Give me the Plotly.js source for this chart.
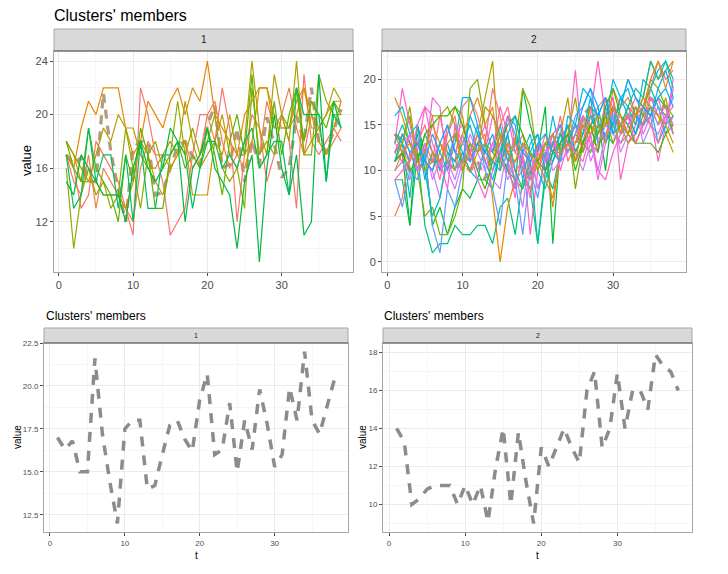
<!DOCTYPE html>
<html><head><meta charset="utf-8">
<script src="https://cdn.plot.ly/plotly-3.0.1.min.js"></script>
<style>html,body{margin:0;padding:0;background:#fff}#chart{width:728px;height:574px}</style>
</head><body><div id="chart"></div>
<script>
// ---------------- data ----------------
const tIdx = [1,2,3,4,5,6,7,8,9,10,11,12,13,14,15,16,17,18,19,20,21,22,23,24,25,26,27,28,29,30,31,32,33,34,35,36,37,38];

const centroid1 = [17,16.3,16.8,15,15,21.6,17.2,14.4,12,17.5,18,18,14,14.2,16,17.7,18,16.9,16.2,19.2,20.7,16,16.3,19,15,18,16.3,19.8,17.8,15.3,16,19.9,18,22,18,17.2,18.8,20.4];
const centroid2 = [14,13.3,10,10.3,10.8,11,11,11,10,11,10,11,9.1,11.9,14,10,13.8,11.2,9,13,12,13,14,13,12.2,16,17,13,14,16.9,14,16,16,15,17.9,17.3,17,16];

const members1 = [
 [17,16,13,14,18,17,16,15,13,11,22,20,17,15,11,12,13,17,20,20,18,22,19,12,17,20,19,15,17,20,18,13,23,18,17,18,19,18],
 [17,15,14,17,13,16,15,14,13,12,16,18,17,17,16,17,18,16,17,20,21,18,16,17,16,18,17,21,19,20,22,19,17,20,19,17,18,19],
 [17,16,19,21,20,22,22,22,19,17,18,21,20,19,21,22,20,22,21,24,20,19,18,17,20,21,22,22,20,19,19,21,22,20,18,17,19,21],
 [18,17,15,15,15,14,14,14,13,15,18,17,15,14,16,17,18,14,14,14,18,17,20,17,17,18,22,22,19,19,19,20,22,19,19,20,21,21],
 [18,17,16,15,17,19,18,20,19,19,17,16,16,17,18,17,21,18,16,17,18,20,17,16,18,24,19,17,23,20,18,24,17,18,19,20,22,21],
 [16,10,14,16,14,15,13,14,19,16,13,17,18,16,17,21,17,19,17,18,20,16,15,16,13,22,17,18,17,20,19,22,17,17,23,21,20,20],
 [18,16,15,19,16,15,14,12,17,15,19,17,13,13,17,18,16,17,16,19,17,14,18,20,17,23,16,17,21,17,20,22,18,21,20,19,21,20],
 [15,14,17,16,15,14,14,14,12,16,18,16,15,16,19,18,12,16,17,19,16,15,14,10,15,17,9,16,20,16,14,17,11,12,23,15,21,19],
 [17,13,14,19,15,17,17,13,17,12,18,13,13,17,17,18,17,13,16,18,18,16,17,16,18,19,16,17,18,18,14,22,20,20,20,15,20,19]
];
const colors1 = ['#F8766D','#F07F4C','#E38900','#CD9600','#B09F00','#8FAA00','#5BB300','#00B83E','#00BD5C'];

const members2 = [
 [9,9,4,12,4,1,2,2,4,3,3,4,4,2,6,7,3,9,8,2,10,8,12,14,11,13,12,15,14,13,15,16,14,17,19,17,16,18],
 [11,12,4,15,12,4,6,3,6,8,7,9,9,8,12,10,8,19,15,12,17,2,13,15,12,14,17,16,10,17,15,14,13,15,16,18,17,14],
 [11,13,16,10,5,6,3,3,5,8,19,20,15,12,11,10,9,8,10,11,13,14,12,15,8,13,12,14,16,17,15,13,14,16,20,19,17,16],
 [18,16,13,12,11,10,12,14,17,16,11,14,18,22,10,12,9,8,12,11,13,12,14,18,11,13,15,12,16,15,13,14,13,15,17,16,14,12],
 [12,14,13,11,10,11,13,12,11,10,12,13,14,7,0,6,9,10,8,11,12,6,12,14,15,13,17,14,16,18,14,17,16,18,22,20,21,22],
 [5,7,12,10,13,11,16,12,11,17,18,16,13,19,16,12,10,11,9,12,10,11,13,12,14,16,15,17,18,15,16,14,16,15,19,22,20,21],
 [13,19,15,12,17,16,10,15,12,14,11,13,15,12,17,14,8,12,3,10,12,14,15,13,21,12,16,22,16,18,9,13,15,17,16,11,15,19],
 [12,14,12,10,11,18,17,10,14,15,13,10,12,16,14,11,7,13,12,8,11,12,14,13,15,12,14,9,13,17,16,15,17,14,16,18,15,20],
 [10,11,9,13,11,10,7,11,9,12,10,13,11,9,8,13,10,6,12,8,10,13,11,14,12,10,13,10,14,16,12,14,17,13,15,14,16,18],
 [9,6,10,9,12,4,1,8,6,10,12,15,10,8,4,11,9,3,10,7,12,11,14,13,16,17,19,15,13,16,17,20,18,16,15,17,14,16],
 [14,13,11,14,9,12,11,13,10,12,11,13,12,14,11,16,15,10,12,14,10,13,15,12,14,17,19,17,13,15,18,16,14,17,16,18,19,17],
 [16,17,14,15,11,14,12,10,13,18,18,15,11,9,12,16,14,9,13,14,11,16,12,13,15,14,18,13,15,20,18,19,16,15,17,13,15,16],
 [14,13,7,15,10,5,7,12,11,13,15,12,13,10,12,14,10,8,11,2,9,12,14,12,14,13,15,16,18,14,15,17,19,18,22,20,22,19],
 [13,15,13,11,14,12,10,11,14,12,10,9,13,12,15,11,13,12,14,10,8,11,13,15,12,14,16,14,17,15,18,17,15,20,19,21,22,20],
 [12,11,14,13,15,12,9,14,16,10,12,14,11,13,15,17,13,10,9,11,14,12,16,11,13,15,13,12,18,17,15,16,18,17,15,13,16,17],
 [10,12,11,13,12,15,13,11,10,14,16,18,15,17,11,13,12,14,10,11,9,7,12,14,13,16,14,15,13,19,17,18,16,17,20,22,19,22],
 [12,13,17,11,12,16,16,17,15,10,13,12,17,16,14,12,13,19,17,11,13,12,12,14,18,12,15,14,16,13,15,14,17,16,17,15,18,14],
 [11,12,10,11,14,15,16,16,17,15,12,10,8,11,13,15,16,14,12,11,10,12,13,14,10,13,15,12,17,19,16,15,13,13,13,12,14,15],
 [9,10,11,15,17,13,11,8,15,13,12,9,7,10,13,16,12,11,7,13,11,14,10,13,12,11,14,10,9,12,14,16,13,15,18,16,17,15],
 [13,12,14,10,13,9,11,10,8,11,14,12,10,13,12,9,11,13,10,12,13,10,11,12,14,16,11,13,15,14,13,15,16,18,17,15,16,14],
 [11,14,12,13,11,10,13,15,12,11,16,14,12,11,10,14,16,12,11,13,14,12,11,16,15,19,18,16,18,14,17,20,18,17,16,19,21,18],
 [14,12,13,11,10,12,11,13,14,11,10,12,13,11,14,12,11,13,12,10,13,14,12,13,11,15,14,16,15,17,16,14,16,18,17,16,15,13]
];
const colors2 = ['#00BF7D','#00BA38','#7CAE00','#B79F00','#E58700','#F8766D','#FF61C3','#F564E3','#C77CFF','#619CFF','#00A9FF','#00B8E7','#00C1A3','#00BFC4','#FF6C91','#E88526','#9CA700','#39B600','#FD61D1','#DB72FB','#00B0F6','#C49A00'];

const panelLabels = ['1','2'];
const mainTitle = "Clusters' members";
const subTitle = "Clusters' members";

// ---------------- layout helpers ----------------
const W = 728, H = 574;
const px = x => x / W;
const py = y => 1 - y / H;
const FONT = 'Liberation Sans, Arial, Helvetica, sans-serif';

const traces = [];
traces.push({x:tIdx, y:centroid1, xaxis:'x', yaxis:'y', mode:'lines',
  line:{color:'#B39B7E', width:3.2, dash:'9px,7px'}});
members1.forEach((m,i)=>traces.push({x:tIdx, y:m, xaxis:'x', yaxis:'y', mode:'lines',
  line:{color:colors1[i], width:1.2}}));
traces.push({x:tIdx, y:centroid2, xaxis:'x2', yaxis:'y2', mode:'lines',
  line:{color:'#B39B7E', width:3.2, dash:'9px,7px'}});
members2.forEach((m,i)=>traces.push({x:tIdx, y:m, xaxis:'x2', yaxis:'y2', mode:'lines',
  line:{color:colors2[i], width:1.2}}));
traces.push({x:tIdx, y:centroid1, xaxis:'x3', yaxis:'y3', mode:'lines',
  line:{color:'#8C8C8C', width:3.5, dash:'10px,9px'}});
traces.push({x:tIdx, y:centroid2, xaxis:'x4', yaxis:'y4', mode:'lines',
  line:{color:'#8C8C8C', width:3.5, dash:'10px,9px'}});

function ax(dom, range, dtick, minorDtick, anchor, fs, fmt){
  return {domain:dom, range:range, anchor:anchor, dtick:dtick, tick0:0,
    showgrid:true, gridcolor:'#EBEBEB', gridwidth:1,
    minor:{showgrid:true, gridcolor:'#F4F4F4', gridwidth:0.8, dtick:minorDtick, tick0:0, ticks:''},
    zeroline:false, showline:true, linecolor:'#A6A6A6', linewidth:1, mirror:true,
    ticks:'outside', ticklen:3, tickwidth:1, tickcolor:'#4D4D4D',
    tickfont:{family:FONT, size:fs, color:'#4D4D4D'}, tickformat:fmt||'',
    fixedrange:true};
}

const TLx=[px(54),px(353)], TRx=[px(382),px(686)], TY=[py(272),py(51)];
const BLx=[px(44),px(348)], BRx=[px(383),px(692)], BY=[py(532),py(343)];

const layout = {
  width:W, height:H, margin:{l:0,r:0,t:0,b:0}, showlegend:false,
  paper_bgcolor:'#fff', plot_bgcolor:'#fff',
  xaxis: ax(TLx, [-0.65,39.6], 10, 5, 'y', 11),
  yaxis: ax(TY, [8.25,24.75], 4, 2, 'x', 11),
  xaxis2: ax(TRx, [-0.7,39.7], 10, 5, 'y2', 11),
  yaxis2: ax(TY, [-1.1,23.1], 5, 2.5, 'x2', 11),
  xaxis3: ax(BLx, [-0.8,39.8], 10, 5, 'y3', 8),
  yaxis3: ax(BY, [11.5,22.5], 2.5, 1.25, 'x3', 8, '.1f'),
  xaxis4: ax(BRx, [-0.79,39.8], 10, 5, 'y4', 8),
  yaxis4: ax(BY, [8.55,18.5], 2, 1, 'x4', 8),
  shapes:[], annotations:[]
};

function strip(xd, y0, y1, label, fs){
  layout.shapes.push({type:'rect', xref:'paper', yref:'paper', x0:xd[0], x1:xd[1], y0:py(y1), y1:py(y0),
    fillcolor:'#D9D9D9', line:{color:'#A6A6A6', width:1}, layer:'above'});
  layout.shapes.push({type:'line', xref:'paper', yref:'paper', x0:xd[0], x1:xd[1], y0:py(y1), y1:py(y1),
    line:{color:'#555555', width:1.2}, layer:'above'});
  layout.annotations.push({text:label, xref:'paper', yref:'paper', x:(xd[0]+xd[1])/2, y:py((y0+y1)/2),
    showarrow:false, xanchor:'center', yanchor:'middle', font:{family:FONT, size:fs, color:'#1A1A1A'}});
}
strip(TLx, 29, 51, panelLabels[0], 10);
strip(TRx, 29, 51, panelLabels[1], 10);
strip(BLx, 328, 343, panelLabels[0], 7);
strip(BRx, 328, 343, panelLabels[1], 7);

function txt(text, x, y, size, opts){
  layout.annotations.push(Object.assign({text:text, xref:'paper', yref:'paper', x:px(x), y:py(y),
    showarrow:false, xanchor:'left', yanchor:'middle', font:{family:FONT, size:size, color:'#000'}}, opts||{}));
}
txt(mainTitle, 52, 15, 16);
txt('value', 26, 161, 13, {xanchor:'center', textangle:-90});
txt(subTitle, 44, 316, 12);
txt(subTitle, 382, 316, 12);
txt('value', 17, 437, 10, {xanchor:'center', textangle:-90});
txt('value', 362, 437, 10, {xanchor:'center', textangle:-90});
txt('t', 196, 555, 10, {xanchor:'center'});
txt('t', 537, 555, 10, {xanchor:'center'});

Plotly.newPlot('chart', traces, layout, {staticPlot:true, displayModeBar:false});
</script></body></html>
